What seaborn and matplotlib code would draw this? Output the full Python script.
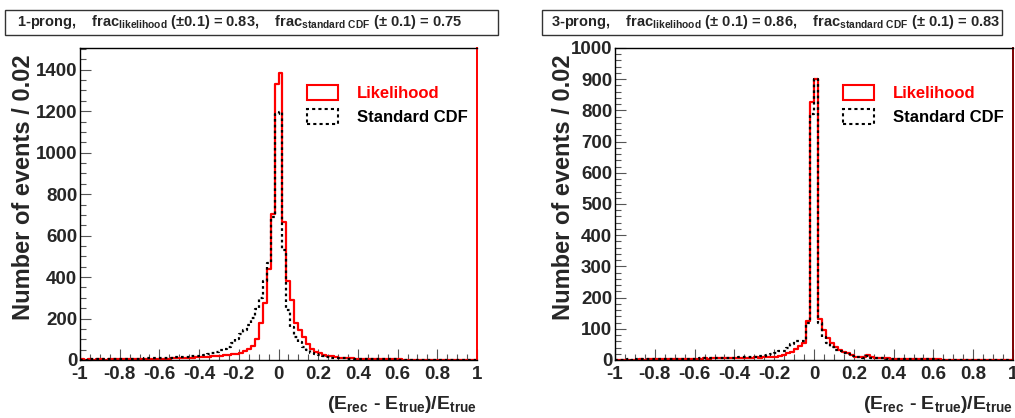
import numpy as np
import pandas as pd
import seaborn as sns
import matplotlib.pyplot as plt
from matplotlib.patches import Patch, Rectangle
from matplotlib.ticker import MultipleLocator

# ------------------------------------------------------------
# data: counts per 0.02 bin, bins from -1 to 1 (100 bins)
# ------------------------------------------------------------
bin_width = 0.02
bin_centers = np.round(np.arange(-1.0 + bin_width / 2, 1.0, bin_width), 3)

# 1-prong
lik_1prong = [3, 2, 3, 2, 3, 3, 2, 4, 3, 3, 4, 3, 4, 5, 4, 5, 5, 6, 5, 6,
              6, 7, 7, 8, 8, 9, 10, 11, 12, 13,
              14, 15, 16, 17, 18, 20, 22, 24, 27, 30,
              34, 42, 52, 66, 100, 180, 274, 440, 705, 1333,
              1385, 668, 383, 290, 177, 145, 113, 77, 53, 40,
              32, 26, 21, 17, 14, 12, 10, 9, 8, 7,
              6, 6, 5, 5, 4, 4, 4, 3, 3, 3, 3, 2, 2, 2, 2, 2, 2, 1, 1, 1,
              1, 1, 1, 1, 1, 1, 1, 1, 1, 1]
cdf_1prong = [2, 2, 3, 3, 3, 3, 4, 4, 4, 5, 5, 5, 6, 6, 7, 7, 8, 8, 9, 9,
              10, 11, 11, 12, 13, 14, 15, 16, 18, 20,
              21, 24, 27, 32, 38, 47, 55, 65, 80, 100,
              125, 145, 170, 205, 245, 300, 380, 467, 692, 1185,
              1195, 530, 241, 161, 113, 89, 64, 48, 35, 27,
              22, 18, 15, 12, 10, 9, 8, 7, 6, 6,
              5, 5, 4, 4, 4, 3, 3, 3, 3, 3, 2, 2, 2, 2, 2, 2, 1, 1, 1, 1,
              1, 1, 1, 1, 1, 1, 1, 1, 1, 1]

# 3-prong
lik_3prong = [1, 1, 1, 1, 1, 1, 2, 1, 2, 2, 2, 2, 2, 3, 2, 3, 3, 3, 3, 4,
              4, 4, 5, 4, 5, 5, 6, 6, 7, 7,
              6, 7, 7, 8, 8, 11, 8, 11, 9, 9,
              11, 13, 16, 21, 27, 34, 45, 55, 125, 828,
              900, 130, 96, 69, 53, 43, 32, 27, 21, 16,
              11, 9, 9, 16, 9, 7, 6, 5, 5, 4,
              4, 3, 3, 3, 3, 2, 2, 2, 2, 2, 2, 2, 1, 1, 1, 1, 1, 1, 1, 1,
              1, 1, 1, 1, 1, 1, 1, 1, 1, 1]
cdf_3prong = [1, 1, 1, 2, 1, 2, 2, 2, 2, 2, 3, 2, 3, 3, 3, 3, 4, 3, 4, 4,
              4, 5, 5, 5, 6, 6, 7, 7, 8, 8,
              8, 9, 9, 10, 10, 11, 12, 13, 15, 18,
              22, 28, 30, 38, 52, 60, 60, 62, 120, 790,
              900, 118, 75, 54, 43, 32, 28, 24, 18, 13,
              11, 9, 8, 12, 8, 6, 5, 5, 4, 4,
              4, 3, 3, 3, 2, 2, 2, 2, 2, 2, 2, 1, 1, 1, 1, 1, 1, 1, 1, 1,
              1, 1, 1, 1, 1, 1, 1, 1, 1, 1]

titles = [r"1-prong,    frac$_{\mathbf{likelihood}}$ ($\pm$0.1) = 0.83,    frac$_{\mathbf{standard\ CDF}}$ ($\pm$ 0.1) = 0.75",
          r"3-prong,    frac$_{\mathbf{likelihood}}$ ($\pm$ 0.1) = 0.86,    frac$_{\mathbf{standard\ CDF}}$ ($\pm$ 0.1) = 0.83"]
legend_labels = ["Likelihood", "Standard CDF"]
xticks = [-1, -0.8, -0.6, -0.4, -0.2, 0, 0.2, 0.4, 0.6, 0.8, 1]
ylims = [1505, 1000]
ymajor = [200, 100]
yminor = [50, 20]

# ------------------------------------------------------------
# style
# ------------------------------------------------------------
sns.set_style("ticks")
plt.rcParams['font.family'] = ['Liberation Sans', 'DejaVu Sans']
plt.rcParams['font.weight'] = 'bold'
plt.rcParams['mathtext.fontset'] = 'custom'
plt.rcParams['mathtext.rm'] = 'Liberation Sans:bold'
plt.rcParams['mathtext.it'] = 'Liberation Sans:bold'
plt.rcParams['mathtext.bf'] = 'Liberation Sans:bold'

fig = plt.figure(figsize=(10.15, 4.18), dpi=100)
W, H = 1015, 418

panels = [
    dict(lik=lik_1prong, cdf=cdf_1prong, left=80, width=397, box=(5, 498),
         text_x=240, ylab_x=24, edge='red'),
    dict(lik=lik_3prong, cdf=cdf_3prong, left=615, width=398, box=(542, 1002),
         text_x=776, ylab_x=563, edge='#7a0000'),
]

for i, p in enumerate(panels):
    ax = fig.add_axes([p['left'] / W, (H - 360) / H, p['width'] / W, 312 / H])
    df = pd.DataFrame({'x': bin_centers,
                       'lik': np.asarray(p['lik'], dtype=float),
                       'cdf': np.asarray(p['cdf'], dtype=float)})

    sns.histplot(data=df, x='x', weights='lik', binwidth=bin_width, binrange=(-1, 1),
                 element='step', fill=False, color='red', linewidth=1.6, ax=ax)
    sns.histplot(data=df, x='x', weights='cdf', binwidth=bin_width, binrange=(-1, 1),
                 element='step', fill=False, color='black', linewidth=1.6,
                 linestyle=(0, (1.2, 1.4)), ax=ax)

    ax.set_xlim(-1, 1)
    ax.set_ylim(0, ylims[i])
    ax.set_xlabel("")
    ax.set_ylabel("")
    ax.set_xticks(xticks)
    ax.set_xticklabels([f"{v:g}" for v in xticks])
    ax.xaxis.set_minor_locator(MultipleLocator(0.05))
    ax.yaxis.set_major_locator(MultipleLocator(ymajor[i]))
    ax.yaxis.set_minor_locator(MultipleLocator(yminor[i]))
    ax.tick_params(which='both', direction='in', labelsize=13.5, width=0.8, color='#555555')
    ax.tick_params(which='major', length=8)
    ax.tick_params(which='minor', length=4)
    ax.tick_params(axis='x', pad=4)
    ax.tick_params(axis='y', pad=2)
    for s in ax.spines.values():
        s.set_visible(True)
        s.set_linewidth(1.0)
        s.set_color('black')
    ax.spines['right'].set_color(p['edge'])
    ax.spines['right'].set_linewidth(1.4)

    # axis titles, ROOT style (right / top aligned)
    ax.text(1.0, -0.11, r"(E$_{\mathbf{rec}}$ - E$_{\mathbf{true}}$)/E$_{\mathbf{true}}$",
            transform=ax.transAxes, ha='right', va='top', fontsize=14, fontweight='bold')
    ax.text((p['ylab_x'] - p['left']) / p['width'], 0.98, "Number of events / 0.02",
            transform=ax.transAxes, rotation=90, ha='center', va='top',
            fontsize=17, fontweight='bold')

    handles = [Patch(facecolor='none', edgecolor='red', linewidth=1.5),
               Patch(facecolor='none', edgecolor='black', linewidth=1.5, linestyle=(0, (1.5, 1.5)))]
    ax.legend(handles, legend_labels, loc='upper left', bbox_to_anchor=(0.572, 0.881),
              frameon=False, handlelength=1.86, handleheight=1.02,
              handletextpad=1.14, labelspacing=0.45, borderpad=0, borderaxespad=0,
              labelcolor=['red', 'black'], prop={'weight': 'bold', 'size': 12})

    # title box
    x0, x1 = p['box']
    fig.patches.append(Rectangle((x0 / W, (H - 35) / H), (x1 - x0) / W, 25 / H,
                                 transform=fig.transFigure, fill=False,
                                 edgecolor='#333333', linewidth=1.0))
    fig.text(p['text_x'] / W, (H - 22) / H, titles[i], ha='center', va='center',
             fontsize=10.5, fontweight='bold')

fig.savefig("out.png", dpi=100)
